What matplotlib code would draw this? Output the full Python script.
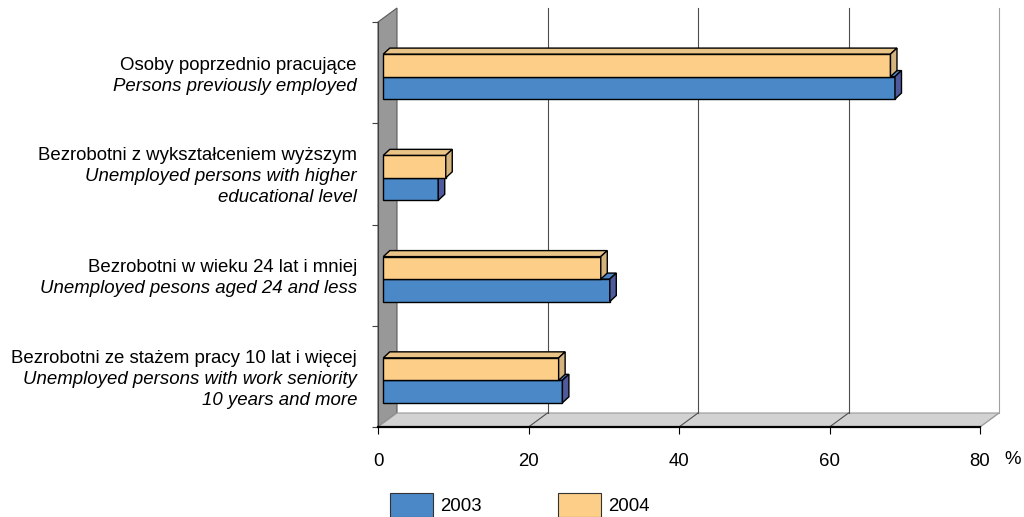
import matplotlib.pyplot as plt
from matplotlib.patches import Polygon, Patch

plt.rcParams['font.family'] = ['Liberation Sans', 'DejaVu Sans']

# categories listed bottom to top
labels_pl = ["Bezrobotni ze stażem pracy 10 lat i więcej",
             "Bezrobotni w wieku 24 lat i mniej",
             "Bezrobotni z wykształceniem wyższym",
             "Osoby poprzednio pracujące"]
labels_en = [["Unemployed persons with work seniority", "10 years and more"],
             ["Unemployed pesons aged 24 and less"],
             ["Unemployed persons with higher", "educational level"],
             ["Persons previously employed"]]
values_2003 = [23.8, 30.1, 7.3, 68.0]
values_2004 = [23.3, 28.9, 8.3, 67.4]
years = ["2003", "2004"]
x_ticks = [0, 20, 40, 60, 80]

colors = {"2003": ("#4a88c8", "#4a82c2", "#4f5a9c"),
          "2004": ("#fcce87", "#eac387", "#d4b37c")}
FS = 13.4


def draw_bar(ax, y, v, h, x0, dx, dy, face, top, side, z):
    ax.barh(y, v, height=h, left=x0, color=face, edgecolor="black",
            linewidth=1.0, zorder=z)
    x1 = x0 + v
    yt = y + h / 2
    yb = y - h / 2
    ax.add_patch(Polygon([(x0, yt), (x1, yt), (x1 + dx, yt + dy), (x0 + dx, yt + dy)],
                         closed=True, facecolor=top, edgecolor="black",
                         linewidth=1.0, zorder=z, clip_on=False))
    ax.add_patch(Polygon([(x1, yb), (x1, yt), (x1 + dx, yt + dy), (x1 + dx, yb + dy)],
                         closed=True, facecolor=side, edgecolor="black",
                         linewidth=1.0, zorder=z, clip_on=False))


fig = plt.figure(figsize=(10.24, 5.17), dpi=100)
ax = fig.add_axes([378 / 1024, 90 / 517, 602 / 1024, 405 / 517])
ax.set_xlim(0, 80)
ax.set_ylim(0, 4)

px_x = 602 / 80
px_y = 405 / 4
wall_dx = 19 / px_x
wall_dy = 14 / px_y
bar_dx = 6.5 / px_x
bar_dy = 6 / px_y
bar_x0 = 5.3 / px_x
bar_h = 0.222

# side wall and floor
ax.add_patch(Polygon([(0, 0), (0, 4), (wall_dx, 4 + wall_dy), (wall_dx, wall_dy)],
                     closed=True, facecolor="#989898", edgecolor="#5a5a5a",
                     linewidth=0.8, zorder=1, clip_on=False))
ax.add_patch(Polygon([(0, 0), (80, 0), (80 + wall_dx, wall_dy), (wall_dx, wall_dy)],
                     closed=True, facecolor="#d2d2d2", edgecolor="#9a9a9a",
                     linewidth=0.8, zorder=1, clip_on=False))

# back gridlines and floor diagonals
for t in x_ticks[1:]:
    c = "#a0a0a0" if t == x_ticks[-1] else "#4d4d4d"
    ax.plot([t + wall_dx, t + wall_dx], [wall_dy, 4 + wall_dy], color=c,
            linewidth=0.8, zorder=2, clip_on=False)
    ax.plot([t, t + wall_dx], [0, wall_dy], color=c, linewidth=0.8,
            zorder=2, clip_on=False)

for i in range(len(labels_pl)):
    f, tp, sd = colors["2003"]
    draw_bar(ax, i + 0.35, values_2003[i], bar_h, bar_x0, bar_dx, bar_dy, f, tp, sd, 3)
    f, tp, sd = colors["2004"]
    draw_bar(ax, i + 0.572, values_2004[i], bar_h, bar_x0, bar_dx, bar_dy, f, tp, sd, 4)

# category labels
pitch = 21 * 0.72
for i in range(len(labels_pl)):
    lines = [(labels_pl[i], "normal")] + [(s, "italic") for s in labels_en[i]]
    n = len(lines)
    for k, (txt, st) in enumerate(lines):
        off = ((n - 1) / 2 - k) * pitch
        ax.annotate(txt, xy=(-21 / 602, i + 0.47), xycoords=ax.get_yaxis_transform(),
                    xytext=(0, off), textcoords="offset points", ha="right",
                    va="center", fontsize=FS, style=st, annotation_clip=False)

for s in ["top", "right"]:
    ax.spines[s].set_visible(False)
ax.spines["left"].set_color("#404040")
ax.spines["left"].set_linewidth(0.8)
ax.spines["left"].set_zorder(2)
ax.spines["bottom"].set_linewidth(1.6)
ax.spines["bottom"].set_zorder(2)

ax.set_xticks(x_ticks)
ax.tick_params(axis="x", length=5, width=0.8, pad=14, labelsize=FS)
ax.set_yticks([0, 1, 2, 3, 4])
ax.set_yticklabels([])
ax.tick_params(axis="y", length=4.5, width=0.8, color="#404040")

fig.text(1013 / 1024, (517 - 460) / 517, "%", ha="center", va="center", fontsize=FS)

handles = [Patch(facecolor=colors[y][0], edgecolor="#333333", linewidth=0.8) for y in years]
fig.legend(handles, years, loc="center left", bbox_to_anchor=(390 / 1024, 12 / 517),
           frameon=False, ncol=2, fontsize=FS, handlelength=2.3, handleheight=1.6,
           handletextpad=0.38, columnspacing=4.1, borderpad=0, borderaxespad=0)

fig.savefig("out.png", dpi=100)
